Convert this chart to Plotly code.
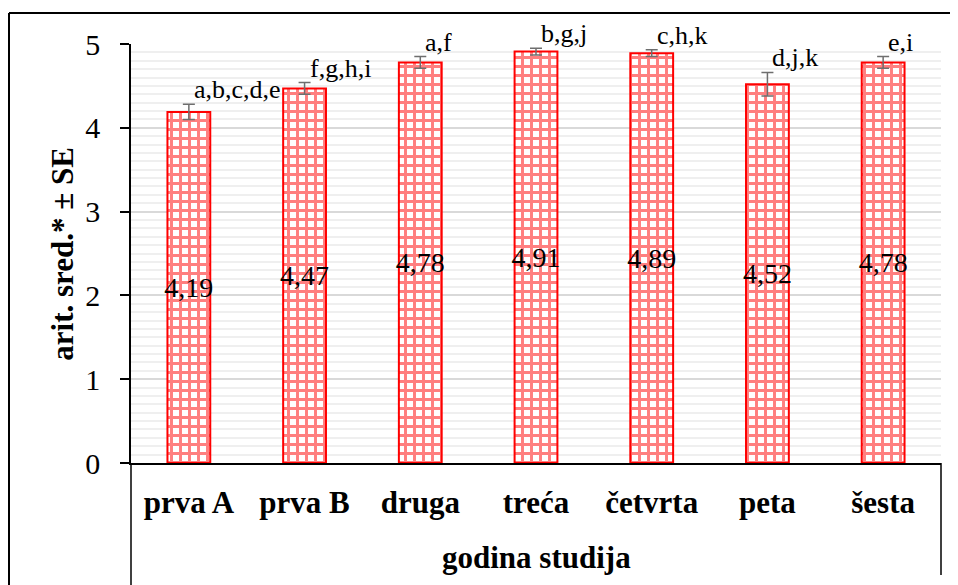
import plotly.graph_objects as go

categories = ["prva A", "prva B", "druga", "treća", "četvrta", "peta", "šesta"]
means = [4.19, 4.47, 4.78, 4.91, 4.89, 4.52, 4.78]
se = [0.09, 0.07, 0.07, 0.04, 0.04, 0.14, 0.07]
letters = ["a,b,c,d,e", "f,g,h,i", "a,f", "b,g,j", "c,h,k", "d,j,k", "e,i"]
y_ticks = [0, 1, 2, 3, 4, 5]

SERIF = "Liberation Serif"

fig = go.Figure()
fig.add_trace(go.Bar(
    x=categories, y=means,
    width=0.37,
    marker=dict(
        color="white",
        line=dict(color="#ff0000", width=2),
        pattern=dict(shape="+", fgcolor="#ff0000", bgcolor="white", size=9, solidity=0.55),
    ),
    error_y=dict(type="data", array=se, visible=True, color="#6e6e6e", thickness=1.5, width=6),
    texttemplate="%{y:.2f}",
    textposition="inside",
    insidetextanchor="middle",
    constraintext="none",
    textangle=0,
    textfont=dict(family=SERIF, size=28, color="black"),
    cliponaxis=False,
    showlegend=False,
))

for c, m, s, lab in zip(categories, means, se, letters):
    fig.add_annotation(
        x=c, y=m + s, text=lab, showarrow=False,
        xanchor="left", yanchor="bottom", xshift=3, yshift=-2,
        font=dict(family=SERIF, size=26, color="black"),
    )

# axis titles
fig.add_annotation(
    xref="paper", yref="paper", x=-0.085, y=0.5, text="<b>arit. sred.* ± SE</b>",
    textangle=-90, showarrow=False, xanchor="center", yanchor="middle",
    font=dict(family=SERIF, size=31, color="black"),
)
fig.add_annotation(
    xref="paper", yref="paper", x=0.5, y=(463 - 557) / 419, text="<b>godina studija</b>",
    showarrow=False, xanchor="center", yanchor="middle",
    font=dict(family=SERIF, size=31, color="black"),
)

# category frame and outer border
line_style = dict(color="black", width=1.5)
fig.add_shape(type="line", xref="paper", yref="paper", x0=0, x1=0, y0=0, y1=(463 - 585) / 419, line=line_style)
fig.add_shape(type="line", xref="paper", yref="paper", x0=1, x1=1, y0=0, y1=(463 - 575) / 419, line=line_style)
fig.add_shape(type="line", xref="paper", yref="paper", x0=(9 - 131) / 810, x1=(9 - 131) / 810,
              y0=(463 - 13) / 419, y1=(463 - 600) / 419, line=dict(color="black", width=2))
fig.add_shape(type="line", xref="paper", yref="paper", x0=(9 - 131) / 810, x1=(970 - 131) / 810,
              y0=(463 - 13) / 419, y1=(463 - 13) / 419, line=dict(color="black", width=2))

fig.update_layout(
    width=950, height=577,
    margin=dict(l=123, r=17, t=36, b=122),
    paper_bgcolor="white", plot_bgcolor="white",
    separators=", ",
    bargap=0.63,
    font=dict(family=SERIF, color="black"),
    xaxis=dict(
        type="category", range=[-0.5, 6.5],
        showline=True, linecolor="black", linewidth=2,
        ticks="", showgrid=False,
        tickfont=dict(family=SERIF, size=31, color="black"),
        tickvals=categories,
        ticktext=["<b>%s</b>" % c for c in categories],
        ticklabelstandoff=11,
    ),
    yaxis=dict(
        range=[0, 5], tickvals=y_ticks,
        showline=True, linecolor="black", linewidth=1.5,
        ticks="outside", ticklen=9, tickcolor="black", tickwidth=1.5,
        showgrid=True, gridcolor="#d9d9d9", gridwidth=1.5,
        zeroline=False,
        minor=dict(dtick=0.1, showgrid=True, gridcolor="#efefef", gridwidth=1.5),
        tickfont=dict(family=SERIF, size=30, color="black"),
        ticklabelstandoff=14,
    ),
)

fig.write_html("out.html")
